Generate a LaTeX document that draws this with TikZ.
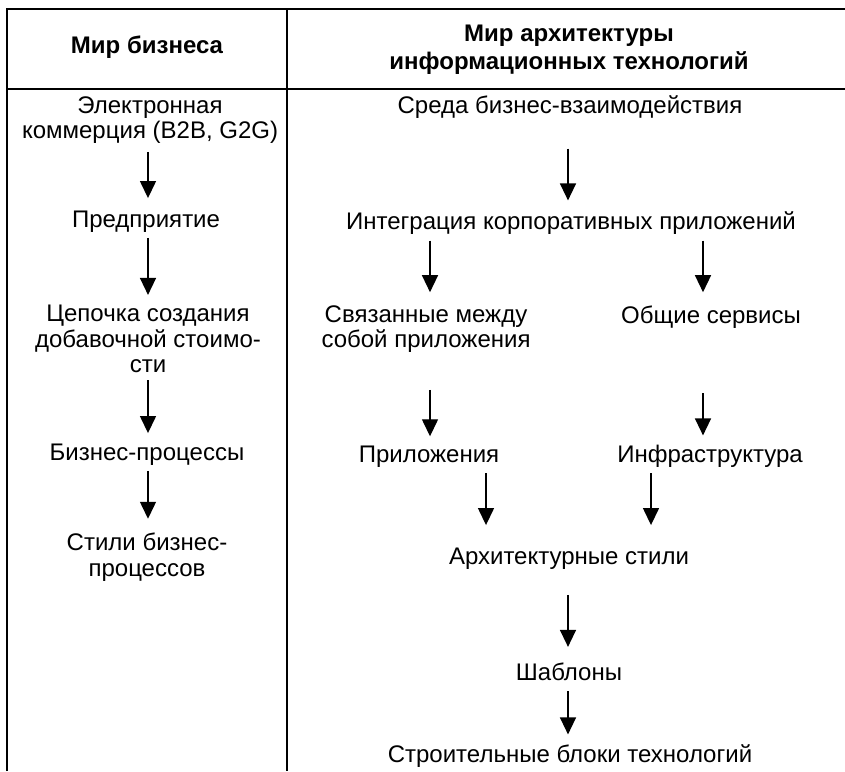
\documentclass[tikz,border=0pt]{standalone}
\usepackage{fontspec}
\setmainfont{Liberation Sans}
\usetikzlibrary{arrows.meta}

\tikzset{
  lbl/.style={inner sep=0pt,align=center,font=\fontsize{24}{25.5}\selectfont},
  hdr/.style={inner sep=0pt,align=center,font=\fontsize{24}{28}\selectfont\bfseries},
  rule/.style={line width=1.6pt},
  arr/.style={-{Triangle[width=16pt,length=17pt]},line width=1.4pt}
}

\begin{document}
\begin{tikzpicture}[x=1pt,y=-1pt]
\useasboundingbox (0,0) rectangle (845,771);
% table frame
\draw[rule] (7,771) -- (7,9) -- (845,9);
\draw[rule] (7,89) -- (845,89);
\draw[rule] (287,9) -- (287,771);
% headers
\node[hdr] (hdrbiz) at (147,47) {Мир бизнеса};
\node[hdr] (hdrit) at (569,50) {Мир архитектуры\\информационных технологий};
% business column
\node[lbl] (ecom) at (150,120) {Электронная\\коммерция (B2B, G2G)};
\node[lbl] (ent) at (146,222) {Предприятие};
\node[lbl] (chain) at (148,339) {Цепочка создания\\добавочной стоимо-\\сти};
\node[lbl] (bproc) at (147,455) {Бизнес-процессы};
\node[lbl] (bstyle) at (147,557) {Стили бизнес-\\процессов};
% IT column
\node[lbl] (env) at (570,107) {Среда бизнес-взаимодействия};
\node[lbl] (integ) at (571,223) {Интеграция корпоративных приложений};
\node[lbl] (linked) at (426,329) {Связанные между\\собой приложения};
\node[lbl,anchor=base] (svc) at (711,323) {Общие сервисы};
\node[lbl,anchor=base] (apps) at (429,462) {Приложения};
\node[lbl,anchor=base] (infra) at (710,462) {Инфраструктура};
\node[lbl] (archst) at (569,559) {Архитектурные стили};
\node[lbl] (tmpl) at (569,672) {Шаблоны};
\node[lbl] (blocks) at (570,756) {Строительные блоки технологий};
% arrows, business
\draw[arr,shorten <=8pt,shorten >=13pt] ([xshift=-2pt]ecom.south) -- ([xshift=-2pt]ecom.south |- ent.north);
\draw[arr,shorten <=5pt,shorten >=10pt] ([xshift=2pt]ent.south) -- ([xshift=2pt]ent.south |- chain.north);
\draw[arr,shorten <=7pt,shorten >=11pt] (chain.south) -- (chain.south |- bproc.north);
\draw[arr,shorten <=5pt,shorten >=14pt] ([xshift=1pt]bproc.south) -- ([xshift=1pt]bproc.south |- bstyle.north);
% arrows, IT
\draw[arr,shorten <=30pt,shorten >=11pt] ([xshift=-2pt]env.south) -- ([xshift=-2pt]env.south |- integ.north);
\draw[arr,shorten <=6pt,shorten >=13pt] ([xshift=4pt]linked.north |- integ.south) -- ([xshift=4pt]linked.north);
\draw[arr,shorten <=6pt,shorten >=13pt] ([xshift=-8pt]svc.north |- integ.south) -- ([xshift=-8pt]svc.north);
\draw[arr,shorten <=37pt,shorten >=9pt] ([xshift=4pt]linked.south) -- ([xshift=4pt]linked.south |- apps.north);
\draw[arr,shorten <=65pt,shorten >=9pt] ([xshift=-8pt]svc.south) -- ([xshift=-8pt]svc.south |- infra.north);
\draw[arr,shorten <=6pt,shorten >=23pt] ([xshift=57pt]apps.south) -- ([xshift=57pt]apps.south |- archst.north);
\draw[arr,shorten <=6pt,shorten >=23pt] ([xshift=-59pt]infra.south) -- ([xshift=-59pt]infra.south |- archst.north);
\draw[arr,shorten <=25pt,shorten >=16pt] ([xshift=-1pt]archst.south) -- ([xshift=-1pt]archst.south |- tmpl.north);
\draw[arr,shorten <=10pt,shorten >=10pt] ([xshift=-1pt]tmpl.south) -- ([xshift=-1pt]tmpl.south |- blocks.north);
\end{tikzpicture}
\end{document}
